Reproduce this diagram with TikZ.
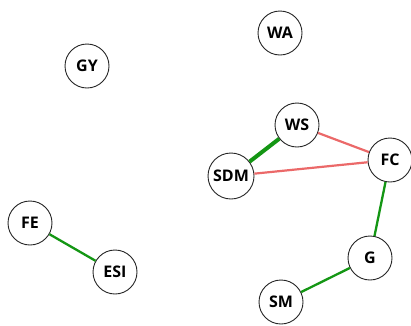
\documentclass[tikz,border=0pt]{standalone}
\usepackage{fontspec}
\setmainfont{Open Sans}
\definecolor{edgegreen}{RGB}{20,150,20}
\definecolor{edgered}{RGB}{235,105,105}
\begin{document}
\begin{tikzpicture}[x=1pt,y=-1pt,
  vtx/.style={circle,draw=black!85,line width=0.9pt,fill=white,minimum size=44pt,inner sep=0pt,font=\fontsize{16}{16}\selectfont\bfseries},
  posedge/.style={draw=edgegreen,line width=2.3pt},
  posthick/.style={draw=edgegreen,line width=4pt},
  negedge/.style={draw=edgered,line width=2.2pt}]
\useasboundingbox (0,0) rectangle (411,325);
\node[vtx] (WA) at (280,33) {WA};
\node[vtx] (GY) at (87,66) {GY};
\node[vtx] (WS) at (297,125) {WS};
\node[vtx,minimum size=46pt] (SDM) at (231,176) {SDM};
\node[vtx] (FC) at (390,160) {FC};
\node[vtx] (FE) at (30,223) {FE};
\node[vtx] (ESI) at (115,272) {ESI};
\node[vtx] (G) at (370,258) {G};
\node[vtx] (SM) at (281,302) {SM};
\draw[posthick] (WS) -- (SDM);
\draw[negedge] (WS) -- (FC);
\draw[negedge] (SDM) -- (FC);
\draw[posedge] (FC) -- (G);
\draw[posedge] (G) -- (SM);
\draw[posedge] (FE) -- (ESI);
\end{tikzpicture}
\end{document}
